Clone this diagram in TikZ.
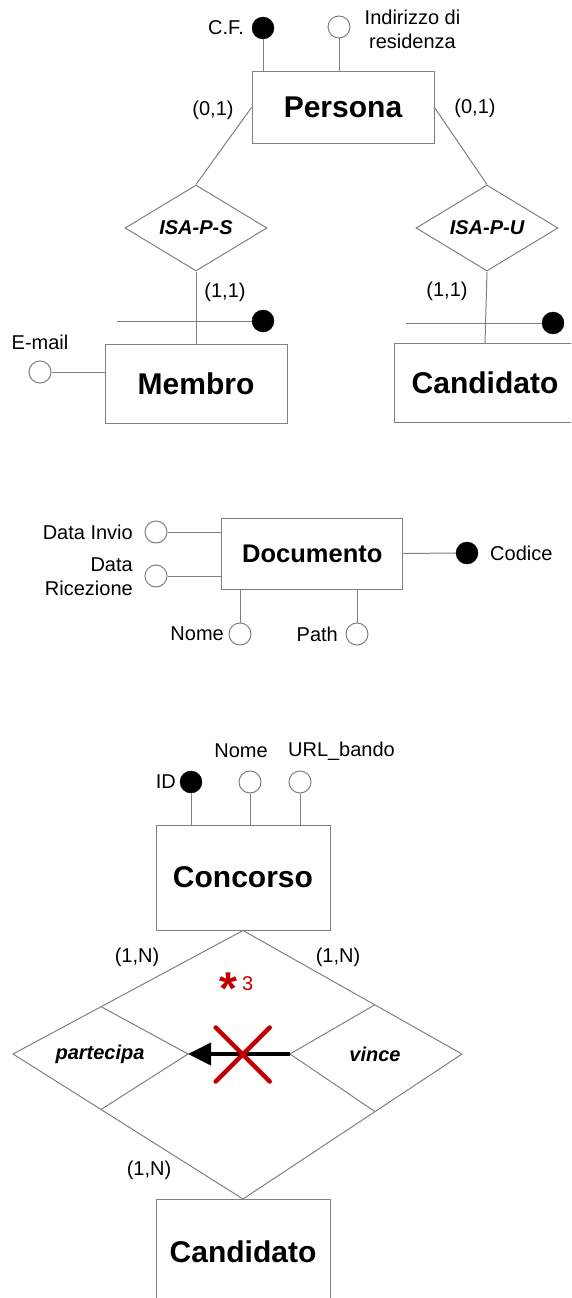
\documentclass[tikz,border=0pt]{standalone}
\usepackage{fontspec}
\setmainfont{Liberation Sans}
\usetikzlibrary{shapes.geometric,arrows.meta,calc}
\definecolor{lg}{RGB}{128,128,128}
\definecolor{xred}{RGB}{192,0,0}
\newcommand\lblf{\fontsize{20}{24}\selectfont}
\newcommand\entf{\fontsize{30}{36}\selectfont\bfseries}
\newcommand\docf{\fontsize{25.5}{30}\selectfont\bfseries}
\newcommand\relf{\fontsize{20}{24}\selectfont\bfseries\itshape}
\begin{document}
\begin{tikzpicture}[x=1pt,y=-1pt,
  ent/.style={rectangle, draw=lg, line width=1pt, fill=white, inner sep=0pt, font=\entf},
  rel/.style={diamond, draw=lg, line width=1pt, fill=white, aspect=1.65, minimum width=142pt, minimum height=86pt, inner sep=0pt, font=\relf},
  attr/.style={circle, draw=lg, line width=1pt, fill=white, minimum size=22pt, inner sep=0pt},
  keyattr/.style={circle, draw=black, fill=black, minimum size=22pt, inner sep=0pt},
  lbl/.style={inner sep=0pt, font=\lblf},
  relt/.style={inner sep=0pt, font=\relf},
  conn/.style={draw=lg, line width=1pt},
  bigarrow/.style={draw=black, line width=4pt, -{Triangle[length=23pt,width=22pt]}},
  redx/.style={draw=xred, line width=4.5pt, line cap=round}
]
\useasboundingbox (0,0) rectangle (571,1298);
\clip (0,0) rectangle (571,1298);

% ---------------- Persona / ISA ----------------
\node[ent, minimum width=182pt, minimum height=71pt] (persona) at (343,107.5) {Persona};
\node[keyattr] (cf) at (263,28) {};
\node[lbl, anchor=east] (cfl) at (244,28) {C.F.};
\node[attr] (ind) at (339,27) {};
\node[lbl, align=center] (indl) at (412.5,29) {Indirizzo di\\residenza};
\draw[conn] (cf.south) -- (cf.south |- persona.north);
\draw[conn] (ind.south) -- (ind.south |- persona.north);

\node[rel] (isas) at (196,228) {ISA-P-S};
\node[rel] (isau) at (487,228) {ISA-P-U};
\draw[conn] (persona.west) -- (isas.north);
\draw[conn] (persona.east) -- (isau.north);
\node[lbl] (c01a) at (213,110) {(0,1)};
\node[lbl] (c01b) at (475,108) {(0,1)};

\node[ent, minimum width=182pt, minimum height=79pt] (membro) at (196,383.5) {Membro};
\node[ent, minimum width=182pt, minimum height=79pt] (cand1) at (485,383) {Candidato};
\draw[conn] (isas.south) -- (membro.north);
\draw[conn] (isau.south) -- (cand1.north);
\node[lbl] (c11a) at (225,292) {(1,1)};
\node[lbl] (c11b) at (447,291) {(1,1)};

\coordinate (idms) at (117,321);
\node[keyattr] (idmk) at (263,321) {};
\draw[conn] (idms) -- (idmk.west);
\coordinate (idus) at (406,323);
\node[keyattr] (iduk) at (553,323) {};
\draw[conn] (idus) -- (iduk.west);

\node[attr] (email) at (40,372) {};
\node[lbl] (emaill) at (40,342) {E-mail};
\draw[conn] (email.east) -- (email.east -| membro.west);

% ---------------- Documento ----------------
\node[ent, font=\docf, minimum width=181pt, minimum height=71pt] (doc) at (312.3,553.5) {Documento};
\node[attr] (dinv) at (156,532) {};
\node[lbl, anchor=east] (dinvl) at (133,532) {Data Invio};
\draw[conn] (dinv.east) -- (dinv.east -| doc.west);
\node[attr] (dric) at (156,576) {};
\node[lbl, anchor=east, align=right] (dricl) at (133,577) {Data\\Ricezione};
\draw[conn] (dric.east) -- (dric.east -| doc.west);
\node[keyattr] (cod) at (467,553) {};
\node[lbl, anchor=west] (codl) at (490,553) {Codice};
\draw[conn] (doc.east) -- (cod.west);
\node[attr] (dnome) at (240,634) {};
\node[lbl, anchor=east] (dnomel) at (224,634) {Nome};
\draw[conn] (dnome.north) -- (dnome.north |- doc.south);
\node[attr] (dpath) at (357,634) {};
\node[lbl, anchor=east] (dpathl) at (338,634) {Path};
\draw[conn] (dpath.north) -- (dpath.north |- doc.south);

% ---------------- Concorso ----------------
\node[ent, minimum width=174pt, minimum height=105pt] (conc) at (243,877.5) {Concorso};
\node[keyattr] (cid) at (191,782) {};
\node[lbl, anchor=east] (cidl) at (176,782) {ID};
\draw[conn] (cid.south) -- (cid.south |- conc.north);
\node[attr] (cnome) at (250,782) {};
\node[lbl] (cnomel) at (241,751) {Nome};
\draw[conn] (cnome.south) -- (cnome.south |- conc.north);
\node[attr] (curl) at (300,782) {};
\node[lbl] (curll) at (341.5,751) {URL\_bando};
\draw[conn] (curl.south) -- (curl.south |- conc.north);

\node[ent, minimum width=174pt, minimum height=105pt] (cand2) at (243,1252) {Candidato};

% big diamond
\coordinate (bT) at (conc.south);
\coordinate (bB) at (cand2.north);
\coordinate (bL) at (13,1054);
\coordinate (bR) at (462,1054);
\draw[conn] (bT) -- (bR) -- (bB) -- (bL) -- cycle;
% partecipa
\coordinate (pT) at (101,1006.6);
\coordinate (pR) at (188,1054);
\coordinate (pB) at (101,1109.5);
\draw[conn] (pT) -- (pR) -- (pB);
\node[relt] (part) at (100,1054) {partecipa};
% vince
\coordinate (vT) at (375,1004.7);
\coordinate (vL) at (290,1054);
\coordinate (vB) at (375,1111.6);
\draw[conn] (vT) -- (vL) -- (vB);
\node[relt] (vince) at (375,1054) {vince};

\node[lbl] (n1) at (137,957) {(1,N)};
\node[lbl] (n2) at (338,957) {(1,N)};
\node[lbl] (n3) at (149,1170) {(1,N)};

\draw[bigarrow] (vL) -- (pR);
\coordinate (xc) at (242.7,1054.5);
\draw[redx] ($(xc)+(-27,-27)$) -- ($(xc)+(27,27)$);
\draw[redx] ($(xc)+(-27,27)$) -- ($(xc)+(27,-27)$);

\node[lbl, anchor=base west, text=xred] (star) at (219,990) {{\fontsize{46}{46}\selectfont\bfseries\raisebox{-14pt}{*}}\kern5pt 3};
\end{tikzpicture}
\end{document}
